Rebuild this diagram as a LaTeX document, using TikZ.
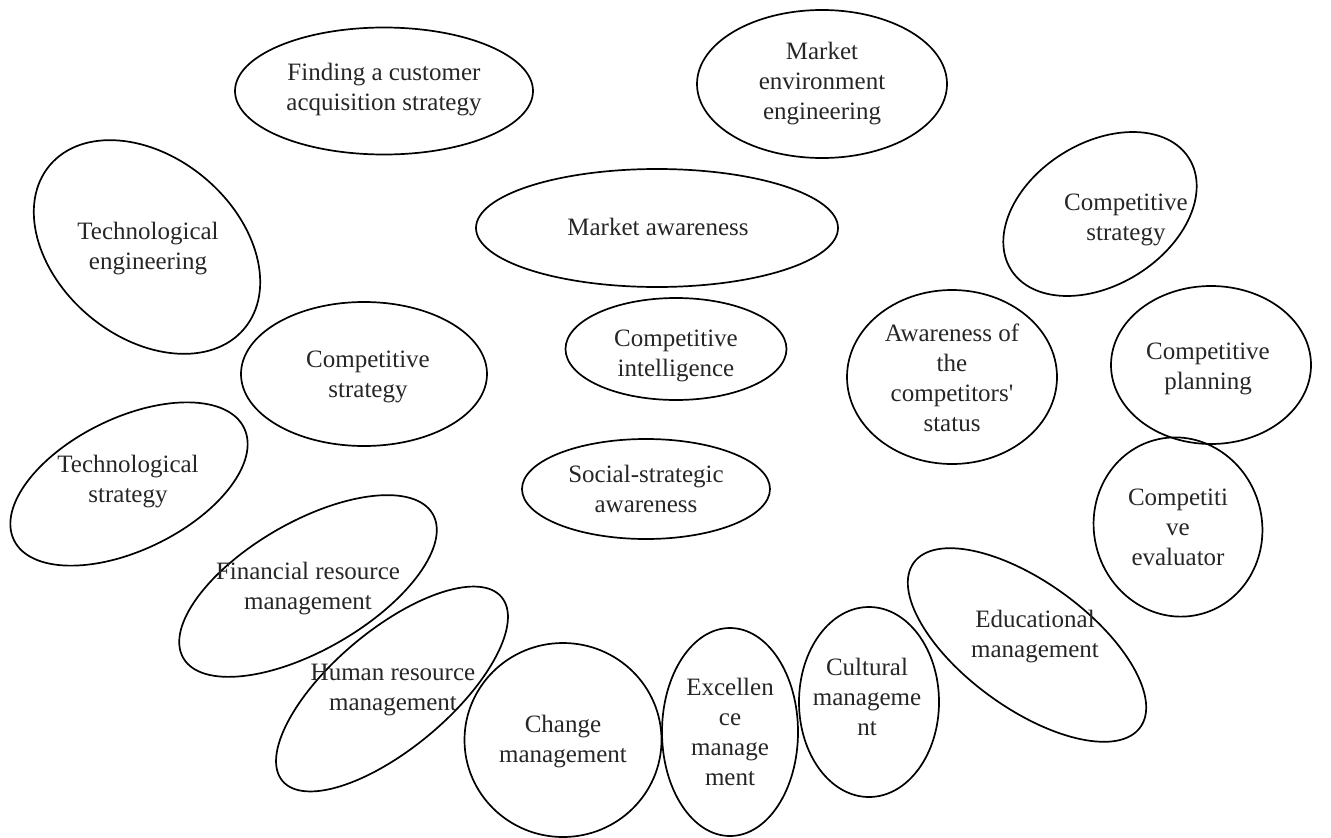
\documentclass[tikz,border=0pt]{standalone}
\usepackage{fontspec}
\setmainfont{Liberation Serif}[Ligatures=TeXOff]
\usetikzlibrary{shapes.geometric}
\begin{document}
\begin{tikzpicture}[x=1pt,y=-1pt,
  oval/.style={draw=black, line width=1.7pt, ellipse, inner sep=0pt, outer sep=0pt},
  lbl/.style={align=center, text=black!85, font=\fontsize{25}{30}\selectfont, inner sep=0pt}]
\useasboundingbox (0,0) rectangle (1331,838);

% outlines
\node[oval, minimum width=298, minimum height=127] (e1) at (384,91) {};
\node[oval, minimum width=250, minimum height=148] (e2) at (822,84) {};
\node[oval, minimum width=254, minimum height=180, rotate=-40] (e3) at (147,247) {};
\node[oval, minimum width=362, minimum height=118] (e4) at (657,228) {};
\node[oval, minimum width=210, minimum height=142, rotate=32] (e5) at (1100,214) {};
\node[oval, minimum width=246, minimum height=144] (e6) at (364,374) {};
\node[oval, minimum width=221, minimum height=102] (e7) at (676,349) {};
\node[oval, minimum width=210, minimum height=174] (e8) at (952,377) {};
\node[oval, minimum width=200, minimum height=158] (e9) at (1211,365) {};
\node[oval, minimum width=168, minimum height=180, rotate=15] (e10) at (1178,527) {};
\node[oval, minimum width=256, minimum height=132, rotate=26] (e11) at (129,484) {};
\node[oval, minimum width=288, minimum height=128, rotate=30] (e12) at (308,586) {};
\node[oval, minimum width=286, minimum height=118, rotate=40] (e13) at (392,689) {};
\node[oval, minimum width=197, minimum height=194] (e14) at (563,740) {};
\node[oval, minimum width=136, minimum height=208] (e15) at (730,732) {};
\node[oval, minimum width=140, minimum height=190] (e16) at (869,702) {};
\node[oval, minimum width=280, minimum height=126, rotate=-36] (e17) at (1027,645) {};
\node[oval, minimum width=248, minimum height=100] (e18) at (646,489) {};

% labels
\node[lbl] (t1) at (384,90) {Finding a customer\\acquisition strategy};
\node[lbl] (t2) at (822,84) {Market\\environment\\engineering};
\node[lbl] (t3) at (148,249) {Technological\\engineering};
\node[lbl] (t4) at (658,227) {Market awareness};
\node[lbl] (t5) at (1126,220) {Competitive\\strategy};
\node[lbl] (t6) at (368,377) {Competitive\\strategy};
\node[lbl] (t7) at (676,356) {Competitive\\intelligence};
\node[lbl] (t8) at (952,378) {Awareness of\\the\\competitors'\\status};
\node[lbl] (t9) at (1208,369) {Competitive\\planning};
\node[lbl] (t10) at (1178,527) {Competiti\\ve\\evaluator};
\node[lbl] (t11) at (128,482) {Technological\\strategy};
\node[lbl] (t12) at (308,589) {Financial resource\\management};
\node[lbl] (t13) at (393,690) {Human resource\\management};
\node[lbl] (t14) at (563,742) {Change\\management};
\node[lbl] (t15) at (730,732) {Excellen\\ce\\manage\\ment};
\node[lbl] (t16) at (867,697) {Cultural\\manageme\\nt};
\node[lbl] (t17) at (1035,637) {Educational\\management};
\node[lbl] (t18) at (646,489) {Social-strategic\\awareness};
\end{tikzpicture}
\end{document}
